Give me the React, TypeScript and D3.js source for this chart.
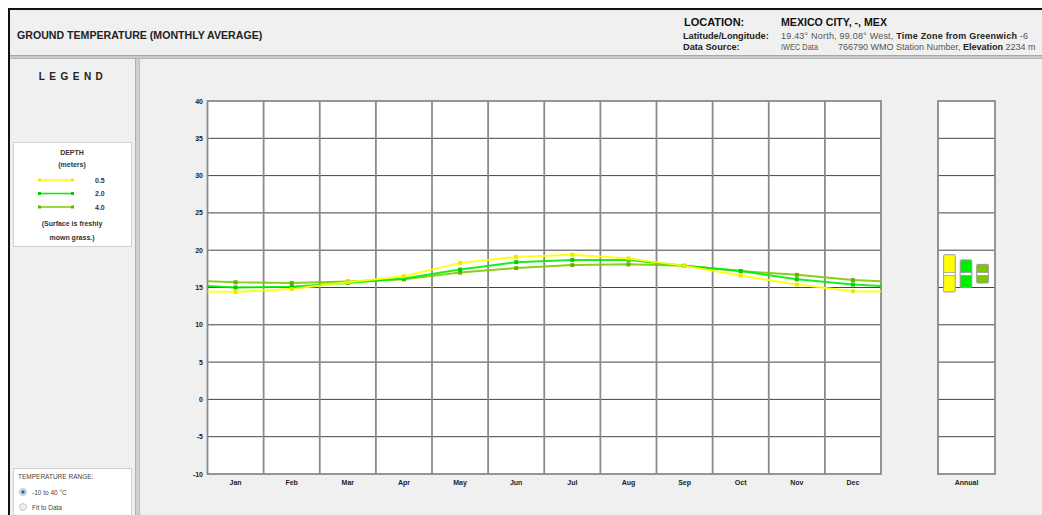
import React from "react";
import * as d3 from "d3";

const months = ["Jan", "Feb", "Mar", "Apr", "May", "Jun", "Jul", "Aug", "Sep", "Oct", "Nov", "Dec"];
const depthLabels = ["0.5", "2.0", "4.0"];
const depth05 = [14.4, 14.8, 15.7, 16.5, 18.3, 19.1, 19.4, 18.9, 17.9, 16.6, 15.4, 14.5];
const depth20 = [15.0, 15.1, 15.6, 16.2, 17.4, 18.4, 18.7, 18.7, 17.9, 17.2, 16.1, 15.4];
const depth40 = [15.7, 15.6, 15.8, 16.1, 17.0, 17.6, 18.0, 18.1, 17.9, 17.2, 16.7, 16.0];
const yTicks = [40, 35, 30, 25, 20, 15, 10, 5, 0, -5, -10];
const seriesColors = ["#ffff00", "#00ee00", "#7fc800"];
const markerColors = ["#f0e800", "#00d000", "#6aae00"];

const W = 1042;
const H = 515;
const FONT = "'Liberation Sans', Arial, sans-serif";

export default function App() {
  const series = [depth05, depth20, depth40];
  const plotL = 207.5, plotR = 881, plotT = 101, plotB = 474;
  const x = d3.scaleBand<string>().domain(months).range([plotL, plotR]);
  const y = d3.scaleLinear().domain([-10, 40]).range([plotB, plotT]);
  const annL = 938, annR = 995;
  const annX = d3.scaleBand<string>().domain(depthLabels).range([942, 990]).paddingInner(0.3).paddingOuter(0.1);

  const line = d3.line<[number, number]>().x((d) => d[0]).y((d) => y(d[1]));

  const seriesPts = series.map((vals) => {
    const edge = (vals[0] + vals[11]) / 2;
    const pts: [number, number][] = [[plotL, edge]];
    vals.forEach((v, i) => pts.push([(x(months[i]) as number) + x.bandwidth() / 2, v]));
    pts.push([plotR, edge]);
    return pts;
  });

  return (
    <svg width={W} height={H} style={{ position: "absolute", left: 0, top: 0, display: "block" }} fontFamily={FONT}>
      <rect x={0} y={0} width={W} height={H} fill="#ffffff" />
      {/* header */}
      <rect x={9} y={9} width={W - 9} height={48} fill="#f0f0f0" />
      <line x1={8} x2={W} y1={9} y2={9} stroke="#111" strokeWidth={2} />
      <line x1={9} x2={9} y1={8} y2={H} stroke="#111" strokeWidth={2} />
      <text x={17} y={39} fontSize={10.6} fontWeight="bold" fill="#222">GROUND TEMPERATURE (MONTHLY AVERAGE)</text>
      <text x={684} y={26} fontSize={11} fontWeight="bold" fill="#111">LOCATION:</text>
      <text x={781} y={26} fontSize={10.6} fontWeight="bold" fill="#111">MEXICO CITY, -, MEX</text>
      <text x={683} y={38.5} fontSize={9.2} fontWeight="bold" fill="#222">Latitude/Longitude:</text>
      <text x={781} y={38.5} fontSize={9} fill="#555" textLength={247} lengthAdjust="spacing">
        19.43° North, 99.08° West, <tspan fontWeight="bold" fill="#222">Time Zone from Greenwich</tspan> -6
      </text>
      <text x={683} y={50} fontSize={9.2} fontWeight="bold" fill="#222">Data Source:</text>
      <text x={781} y={50} fontSize={8.6} fill="#555" textLength={37} lengthAdjust="spacingAndGlyphs">IWEC Data</text>
      <text x={838} y={50} fontSize={9} fill="#555">
        766790 WMO Station Number, <tspan fontWeight="bold" fill="#222">Elevation</tspan> 2234 m
      </text>
      {/* header separator */}
      <rect x={10} y={55} width={W - 10} height={4} fill="#c8c8c8" />
      <line x1={10} x2={W} y1={55.5} y2={55.5} stroke="#a8a8a8" />
      <line x1={10} x2={W} y1={58.5} y2={58.5} stroke="#b8b8b8" />
      {/* left panel */}
      <rect x={10} y={59} width={125} height={H - 59} fill="#f0f0f0" />
      <rect x={135} y={59} width={5} height={H - 59} fill="#cfcfcf" />
      <line x1={135.5} x2={135.5} y1={59} y2={H} stroke="#b0b0b0" />
      <line x1={139.5} x2={139.5} y1={59} y2={H} stroke="#bdbdbd" />
      <rect x={140} y={59} width={W - 140} height={H - 59} fill="#f0f0f0" />
      <text x={73} y={80} fontSize={10} fontWeight="bold" textAnchor="middle" letterSpacing={4.5} fill="#222">LEGEND</text>

      {/* legend box */}
      <rect x={13.5} y={142.5} width={118} height={104} fill="#ffffff" stroke="#d0d0d0" />
      <text x={72} y={155} fontSize={7} fontWeight="bold" textAnchor="middle" fill="#333">DEPTH</text>
      <text x={72} y={167} fontSize={7} fontWeight="bold" textAnchor="middle" fill="#333">(meters)</text>
      {depthLabels.map((d, i) => {
        const yy = 180 + i * 13.5;
        return (
          <g key={d}>
            <line x1={39} x2={73} y1={yy} y2={yy} stroke={seriesColors[i]} strokeWidth={1.5} />
            <rect x={38} y={yy - 1.5} width={3} height={3} fill={markerColors[i]} />
            <rect x={71} y={yy - 1.5} width={3} height={3} fill={markerColors[i]} />
            <text x={95} y={yy + 2.5} fontSize={7} fontWeight="bold" fill="#333">{d}</text>
          </g>
        );
      })}
      <text x={72} y={226} fontSize={7} fontWeight="bold" textAnchor="middle" fill="#333">(Surface is freshly</text>
      <text x={72} y={240} fontSize={7} fontWeight="bold" textAnchor="middle" fill="#333">mown grass.)</text>

      {/* temperature range box */}
      <rect x={13.5} y={468.5} width={118} height={50} fill="#ffffff" stroke="#d0d0d0" />
      <text x={18} y={479} fontSize={6.5} fill="#444">TEMPERATURE RANGE:</text>
      <circle cx={23} cy={492} r={3.5} fill="#dfe6ee" stroke="#9aa" strokeWidth={0.6} />
      <circle cx={23} cy={492} r={1.8} fill="#3a5f8a" />
      <text x={32} y={494.5} fontSize={6.5} fill="#444">-10 to 40 °C</text>
      <circle cx={23} cy={507} r={3.5} fill="#eeeeee" stroke="#aaa" strokeWidth={0.6} />
      <text x={32} y={509.5} fontSize={6.5} fill="#444">Fit to Data</text>

      {/* main plot */}
      <rect x={plotL} y={plotT} width={plotR - plotL} height={plotB - plotT} fill="#ffffff" />
      {yTicks.map((t) => (
        <g key={t}>
          {t !== 40 && t !== -10 && (
            <line x1={plotL} x2={plotR} y1={y(t)} y2={y(t)} stroke="#444" strokeWidth={1} />
          )}
          <text x={203} y={y(t) + 2.5} fontSize={7} fontWeight="bold" textAnchor="end" fill="#222">{t}</text>
        </g>
      ))}
      {months.slice(1).map((m) => (
        <line key={m} x1={x(m) as number} x2={x(m) as number} y1={plotT} y2={plotB} stroke="#8a8a8a" strokeWidth={1.8} />
      ))}
      <rect x={plotL} y={plotT} width={plotR - plotL} height={plotB - plotT} fill="none" stroke="#8a8a8a" strokeWidth={1.8} />
      {months.map((m) => (
        <text key={m} x={(x(m) as number) + x.bandwidth() / 2} y={484.5} fontSize={7} fontWeight="bold" textAnchor="middle" fill="#222">{m}</text>
      ))}

      {/* series lines */}
      {[2, 1, 0].map((si) => (
        <g key={si}>
          <path d={line(seriesPts[si]) as string} fill="none" stroke={seriesColors[si]} strokeWidth={2} strokeOpacity={0.9} />
          {series[si].map((v, i) => (
            <rect key={i} x={(x(months[i]) as number) + x.bandwidth() / 2 - 2} y={y(v) - 2} width={4} height={4} fill={markerColors[si]} />
          ))}
        </g>
      ))}

      {/* annual box */}
      <rect x={annL} y={plotT} width={annR - annL} height={plotB - plotT} fill="#ffffff" />
      {yTicks.map((t) =>
        t !== 40 && t !== -10 ? (
          <line key={t} x1={annL} x2={annR} y1={y(t)} y2={y(t)} stroke="#444" strokeWidth={1} />
        ) : null
      )}
      <rect x={annL} y={plotT} width={annR - annL} height={plotB - plotT} fill="none" stroke="#8a8a8a" strokeWidth={1.8} />
      {series.map((vals, si) => {
        const mn = d3.min(vals) as number;
        const mx = d3.max(vals) as number;
        const mean = d3.mean(vals) as number;
        const bx = annX(depthLabels[si]) as number;
        const bw = annX.bandwidth();
        return (
          <g key={si}>
            <rect x={bx} y={y(mx)} width={bw} height={y(mn) - y(mx)} fill={seriesColors[si]} stroke="#9a9a9a" strokeWidth={1} rx={1} />
            <rect x={bx} y={y(mean) - 1.5} width={bw} height={3} fill="#ffffff" stroke="#9a9a9a" strokeWidth={0.8} />
          </g>
        );
      })}
      <text x={(annL + annR) / 2} y={484.5} fontSize={7} fontWeight="bold" textAnchor="middle" fill="#222">Annual</text>
    </svg>
  );
}
